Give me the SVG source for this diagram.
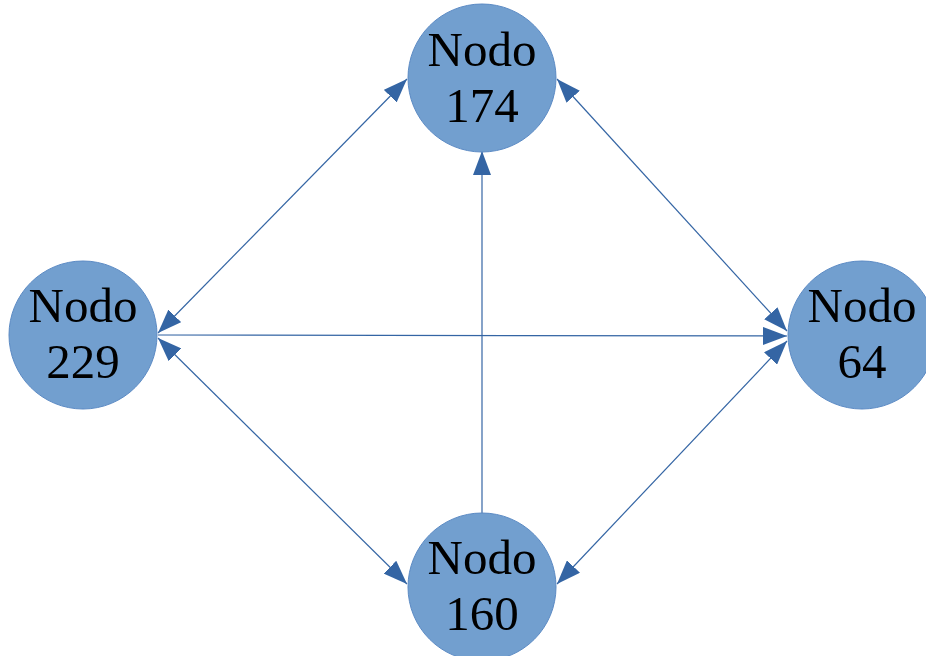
<svg xmlns="http://www.w3.org/2000/svg" width="926" height="656" viewBox="0 0 926 656">
<defs>
<style>
.node circle{fill:#729fcf;stroke:#5b8ac4;stroke-width:1}
.node text{font-family:"Liberation Serif","DejaVu Serif",serif;font-size:49px;fill:#000;text-anchor:middle}
.edge{stroke:#3465a4;stroke-width:1.2;fill:none}
</style>
<marker id="ah" viewBox="0 0 24 18" refX="24" refY="9" markerWidth="24" markerHeight="18" markerUnits="userSpaceOnUse" orient="auto-start-reverse">
<path d="M0,0 L24,9 L0,18 z" fill="#3465a4"/>
</marker>
</defs>
<rect width="926" height="656" fill="#fff"/>
<g id="connectors">
<line class="edge" x1="158" y1="333" x2="407" y2="79" marker-start="url(#ah)" marker-end="url(#ah)"/>
<line class="edge" x1="557" y1="79" x2="787" y2="331" marker-start="url(#ah)" marker-end="url(#ah)"/>
<line class="edge" x1="158" y1="335" x2="787" y2="336" marker-end="url(#ah)"/>
<line class="edge" x1="482" y1="513" x2="482" y2="151" marker-end="url(#ah)"/>
<line class="edge" x1="158" y1="338" x2="407" y2="584" marker-start="url(#ah)" marker-end="url(#ah)"/>
<line class="edge" x1="787" y1="341" x2="557" y2="584" marker-start="url(#ah)" marker-end="url(#ah)"/>
</g>
<g id="node174" class="node">
<circle cx="482" cy="78" r="74"/>
<text x="482" y="66">Nodo</text>
<text x="482" y="122">174</text>
</g>
<g id="node229" class="node">
<circle cx="83" cy="335" r="74"/>
<text x="83" y="322">Nodo</text>
<text x="83" y="378">229</text>
</g>
<g id="node64" class="node">
<circle cx="862" cy="335" r="74"/>
<text x="862" y="322">Nodo</text>
<text x="862" y="378">64</text>
</g>
<g id="node160" class="node">
<circle cx="482" cy="587" r="74"/>
<text x="482" y="574">Nodo</text>
<text x="482" y="630">160</text>
</g>
</svg>
